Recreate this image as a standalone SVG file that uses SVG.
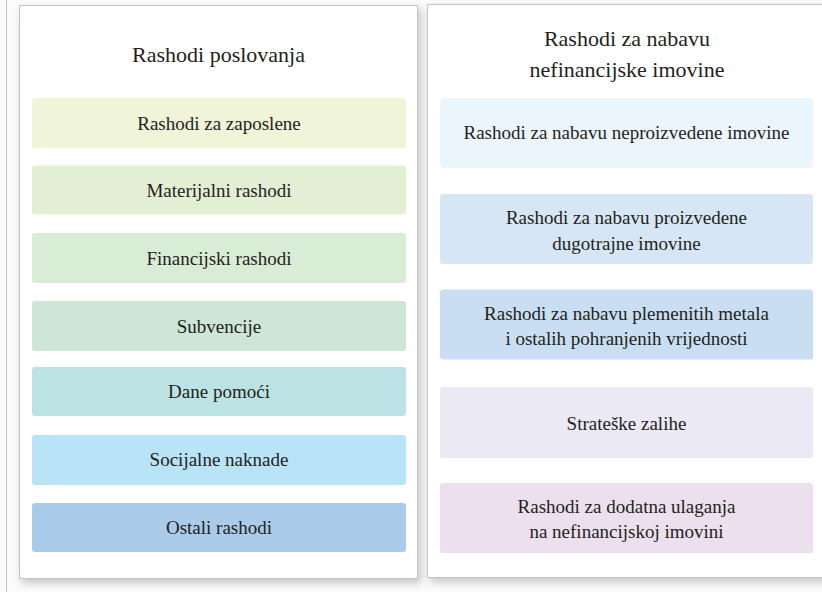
<svg xmlns="http://www.w3.org/2000/svg" width="822" height="592" viewBox="0 0 822 592">
<defs>
<filter id="sh" x="-10%" y="-10%" width="120%" height="120%">
<feDropShadow dx="3" dy="4" stdDeviation="4" flood-color="#000" flood-opacity="0.22"/>
</filter>
<style>
.panel{fill:#ffffff;stroke:#c4c4c4;stroke-width:1}
.t{font-family:"Liberation Serif","Times New Roman",serif;fill:#231f20;text-anchor:middle}
.title{font-size:22px}
.lbl{font-size:19px}
</style>
</defs>
<rect x="0" y="0" width="822" height="592" fill="#fbfbfb"/>
<line x1="6.5" y1="0" x2="6.5" y2="592" stroke="#c4c4c4" stroke-width="1"/>

<g id="panel-left">
<rect class="panel" x="19.5" y="5.5" width="398" height="573" filter="url(#sh)"/>
<text class="t title" x="218.5" y="62">Rashodi poslovanja</text>
</g>
<g id="panel-right">
<rect class="panel" x="427.5" y="4.5" width="400" height="573" filter="url(#sh)"/>
<text class="t title" x="627" y="46">Rashodi za nabavu</text>
<text class="t title" x="627" y="77">nefinancijske imovine</text>
</g>

<g id="l1"><rect x="32" y="98" width="374" height="50" rx="3" fill="#f0f4d8"/><text class="t lbl" x="219" y="129.5">Rashodi za zaposlene</text></g>
<g id="l2"><rect x="32" y="165.5" width="374" height="49" rx="3" fill="#e3efd5"/><text class="t lbl" x="219" y="196.5">Materijalni rashodi</text></g>
<g id="l3"><rect x="32" y="233" width="374" height="50" rx="3" fill="#d9ecd5"/><text class="t lbl" x="219" y="264.5">Financijski rashodi</text></g>
<g id="l4"><rect x="32" y="301" width="374" height="50" rx="3" fill="#cde6d6"/><text class="t lbl" x="219" y="332.5">Subvencije</text></g>
<g id="l5"><rect x="32" y="367" width="374" height="49" rx="3" fill="#bce3e3"/><text class="t lbl" x="219" y="398">Dane pomoći</text></g>
<g id="l6"><rect x="32" y="435" width="374" height="50" rx="3" fill="#b9e3f7"/><text class="t lbl" x="219" y="466">Socijalne naknade</text></g>
<g id="l7"><rect x="32" y="503" width="374" height="49" rx="3" fill="#abcbea"/><text class="t lbl" x="219" y="533.5">Ostali rashodi</text></g>

<g id="r1"><rect x="440" y="98" width="373" height="70" rx="3" fill="#ebf6fc"/><text class="t lbl" x="626.5" y="138.5">Rashodi za nabavu neproizvedene imovine</text></g>
<g id="r2"><rect x="440" y="194" width="373" height="70" rx="3" fill="#d6e6f5"/><text class="t lbl" x="626.5" y="224">Rashodi za nabavu proizvedene</text><text class="t lbl" x="626.5" y="249.5">dugotrajne imovine</text></g>
<g id="r3"><rect x="440" y="289.5" width="373" height="70" rx="3" fill="#c9def2"/><text class="t lbl" x="626.5" y="319.5">Rashodi za nabavu plemenitih metala</text><text class="t lbl" x="626.5" y="344.5">i ostalih pohranjenih vrijednosti</text></g>
<g id="r4"><rect x="440" y="387" width="373" height="71" rx="3" fill="#ebe9f4"/><text class="t lbl" x="626.5" y="429.5">Strateške zalihe</text></g>
<g id="r5"><rect x="440" y="483" width="373" height="70" rx="3" fill="#ece0ee"/><text class="t lbl" x="626.5" y="512.5">Rashodi za dodatna ulaganja</text><text class="t lbl" x="626.5" y="537.5">na nefinancijskoj imovini</text></g>

<g id="connectors"></g>
</svg>
